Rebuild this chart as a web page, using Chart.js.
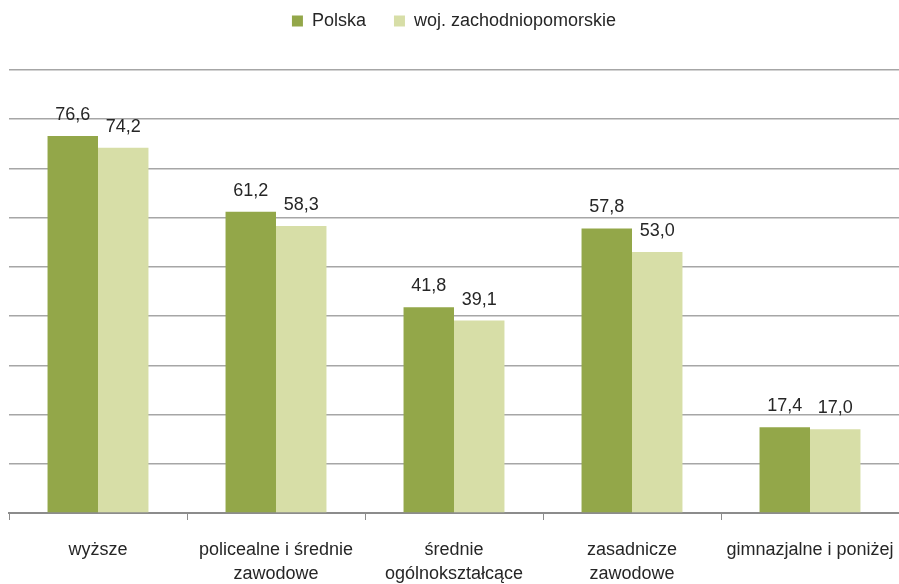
<!DOCTYPE html>
<html>
<head>
<meta charset="utf-8">
<script src="https://cdn.jsdelivr.net/npm/chart.js@4/dist/chart.umd.min.js"></script>
<style>
html,body{margin:0;padding:0;background:#fff;}
#wrap{width:899px;height:584px;position:relative;}
</style>
</head>
<body>
<div id="wrap"><canvas id="c" width="899" height="584"></canvas></div>
<script>
const categories = [
  "wyższe",
  ["policealne i średnie", "zawodowe"],
  ["średnie", "ogólnokształcące"],
  ["zasadnicze", "zawodowe"],
  "gimnazjalne i poniżej"
];
const seriesNames = ["Polska", "woj. zachodniopomorskie"];
const polskaValues = [76.6, 61.2, 41.8, 57.8, 17.4];
const zachValues = [74.2, 58.3, 39.1, 53.0, 17.0];
const yTicks = [0, 10, 20, 30, 40, 50, 60, 70, 80, 90];

const FONT = "'Liberation Sans', Arial, sans-serif";

const valueLabels = {
  id: 'valueLabels',
  afterDatasetsDraw(chart) {
    const ctx = chart.ctx;
    ctx.save();
    ctx.font = "18px " + FONT;
    ctx.fillStyle = '#262626';
    ctx.textAlign = 'center';
    ctx.textBaseline = 'alphabetic';
    chart.data.datasets.forEach((ds, i) => {
      const meta = chart.getDatasetMeta(i);
      meta.data.forEach((bar, j) => {
        const txt = ds.data[j].toFixed(1).replace('.', ',');
        ctx.fillText(txt, bar.x, bar.y - 16);
      });
    });
    ctx.restore();
  }
};

new Chart(document.getElementById('c'), {
  type: 'bar',
  data: {
    labels: categories,
    datasets: [
      { label: seriesNames[0], data: polskaValues, backgroundColor: '#93A749', borderWidth: 0 },
      { label: seriesNames[1], data: zachValues, backgroundColor: '#D7DEA7', borderWidth: 0 }
    ]
  },
  options: {
    responsive: false,
    animation: false,
    devicePixelRatio: 1,
    layout: { padding: { left: 9, right: 0, top: -16, bottom: 0 } },
    datasets: { bar: { barPercentage: 1.0, categoryPercentage: 0.567 } },
    plugins: {
      legend: {
        position: 'top',
        labels: {
          boxWidth: 11, boxHeight: 11, padding: 28,
          color: '#262626',
          font: { family: FONT, size: 18 }
        }
      },
      title: {
        display: true,
        text: ' ',
        weight: 500,
        font: { size: 1, lineHeight: 1 },
        padding: { top: 29, bottom: 0 }
      },
      tooltip: { enabled: false }
    },
    scales: {
      x: {
        afterFit(scale) { scale.paddingLeft = 0; scale.paddingRight = 0; scale.height = 71; },
        grid: { display: true, drawOnChartArea: false, offset: true, tickLength: 7, color: '#8C8C8C', lineWidth: 1 },
        border: { display: true, color: '#8C8C8C', width: 2 },
        ticks: { color: '#262626', padding: 18, maxRotation: 0, autoSkip: false, font: { family: FONT, size: 18, lineHeight: 1.33 } }
      },
      y: {
        min: 0, max: 90,
        afterBuildTicks(axis) { axis.ticks = yTicks.map(v => ({ value: v })); },
        grid: { color: '#A6A6A6', lineWidth: 1.5, drawTicks: false },
        border: { display: false },
        ticks: { display: false }
      }
    }
  },
  plugins: [valueLabels]
});
</script>
</body>
</html>
